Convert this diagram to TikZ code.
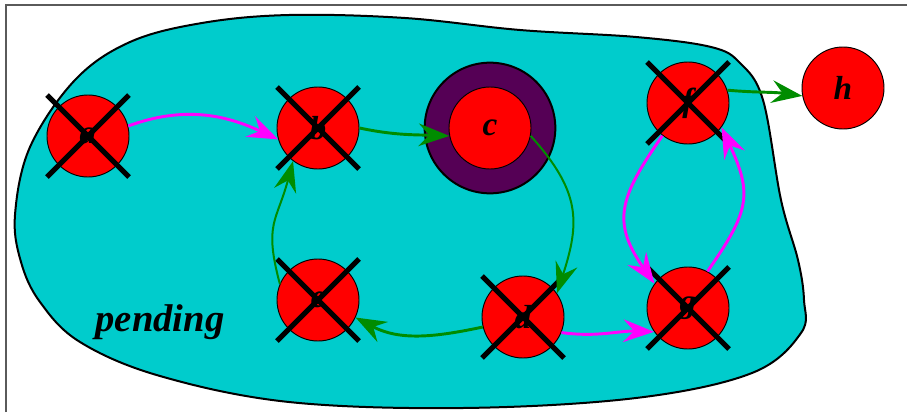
\documentclass[tikz,border=0pt]{standalone}
\usepackage{fontspec}
\setmainfont{Liberation Serif}
\usetikzlibrary{arrows.meta,calc}
\definecolor{blobc}{RGB}{0,204,204}
\definecolor{ringc}{RGB}{85,0,85}
\definecolor{grn}{RGB}{0,140,0}
\definecolor{mag}{RGB}{255,0,255}
\definecolor{framec}{RGB}{90,90,90}
\begin{document}
\begin{tikzpicture}[x=0.75pt,y=0.75pt,
  st/.style={circle,draw=black,line width=0.7pt,fill=red,minimum size=61.5pt,inner sep=0pt,
    font=\fontsize{25}{25}\selectfont\bfseries\itshape},
  ring/.style={circle,draw=black,line width=1.5pt,fill=ringc,minimum size=98pt,inner sep=0pt},
  xline/.style={line width=3.8pt,black},
  arrtip/.style={-{Stealth[length=23pt,width=17pt,inset=8pt]}},
  garr/.style={arrtip,grn,line width=2.2pt},
  garrthin/.style={arrtip,grn,line width=1.5pt},
  marr/.style={arrtip,mag,line width=2.2pt}]
\useasboundingbox (0,0) rectangle (907,412);
\fill[white] (0,0) rectangle (907,412);
\draw[framec,line width=1.5pt] (5.5,0) -- (5.5,407.5) -- (907,407.5);
% blob
\draw[fill=blobc,line width=1.5pt] plot[smooth cycle,tension=0.6] coordinates {
  (15,197) (30,265) (75,332) (130,370) (202,389) (289,397) (405,394) (520,382)
  (636,375) (711,365) (740,349) (763,312) (781,212) (798,152) (804,112) (801,79)
  (752,39) (636,14) (463,4) (289,10) (160,36) (80,70) (40,110) (21,150)};
\node[font=\fontsize{29}{29}\selectfont\bfseries\itshape] (pend) at (160,90) {pending};
% nodes
\node[ring] (cring) at (490,284) {};
\node[st] (a) at (88,276) {a};
\node[st] (b) at (318,284) {b};
\node[st] (c) at (490,284) {c};
\node[st] (d) at (523,95) {d};
\node[st] (e) at (318,112) {e};
\node[st] (f) at (688,309) {f};
\node[st] (g) at (688,104) {g};
\node[st] (h) at (843,324) {h};
% crosses
\foreach \n in {a,b,d,e,f,g}{
  \draw[xline] ($(\n)+(-41,-41)$) -- ($(\n)+(41,41)$);
  \draw[xline] ($(\n)+(-41,41)$) -- ($(\n)+(41,-41)$);
}
% edges
\draw[marr] (a.14) to[out=20,in=155] (b.196);
\draw[garr] (b.0) to[out=-12,in=178] (c.191);
\draw[garrthin] (c.-11) to[out=-48,in=72,looseness=1.2] (d.35);
\draw[garr] (d.194) to[out=192,in=-28] (e.-25);
\draw[garrthin] (e.157) to[out=105,in=255,looseness=1.3] (b.233);
\draw[marr] (d.-22) to[out=-8,in=178] (g.215);
\draw[marr] (f.232) to[out=235,in=125,looseness=1.3] (g.144);
\draw[marr] (g.62) to[out=55,in=-65,looseness=1.3] (f.-36);
\draw[garr] (f.18) to[out=-5,in=172] (h.191);
\end{tikzpicture}
\end{document}
